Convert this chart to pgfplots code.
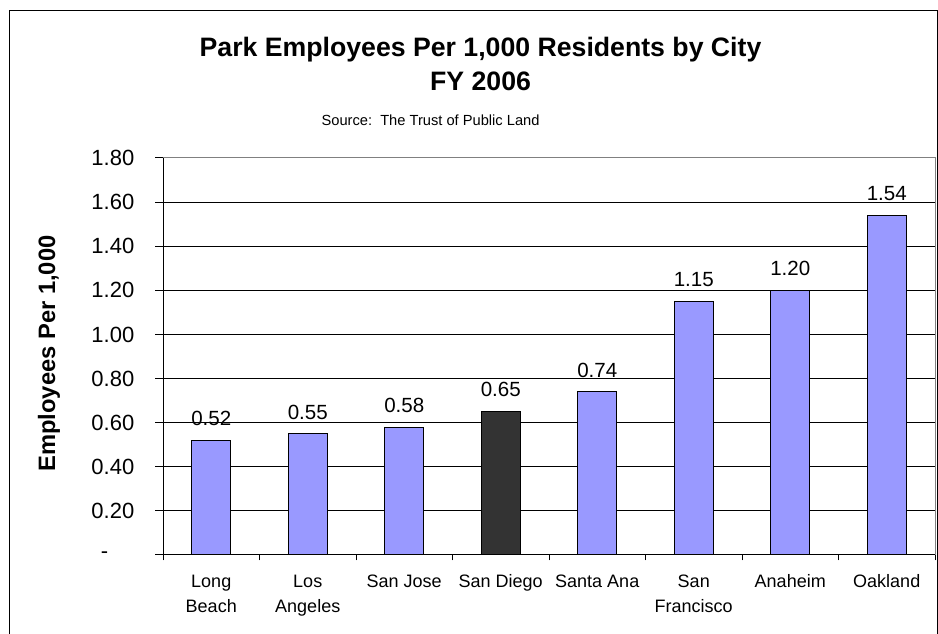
\documentclass[border=0pt]{standalone}
\usepackage{pgfplots}
\pgfplotsset{compat=1.18}
\usepackage{fontspec}
\setmainfont{Liberation Sans}
\definecolor{barblue}{HTML}{9999FF}
\definecolor{bardark}{HTML}{333333}
\definecolor{framegray}{HTML}{808080}
\begin{document}
\begin{tikzpicture}
\useasboundingbox (0,0) rectangle (703.5pt,475.5pt);
\draw[black, line width=0.75pt] (6.75pt,-2pt) -- (6.75pt,467.25pt) -- (702.75pt,467.25pt) -- (702.75pt,-2pt);
\node[anchor=base, font=\fontsize{20}{24}\selectfont\bfseries] at (360.4pt,432.75pt) {Park Employees Per 1,000 Residents by City};
\node[anchor=base, font=\fontsize{20}{24}\selectfont\bfseries] at (360.4pt,407.25pt) {FY 2006};
\node[anchor=base, font=\fontsize{11}{13}\selectfont] at (322.9pt,381pt) {Source:\ \ The Trust of Public Land};
\node[rotate=90, anchor=base, font=\fontsize{17.8}{21}\selectfont\bfseries] at (41.25pt,210.4pt) {Employees Per 1,000};
\begin{axis}[
  at={(122.25pt,59.25pt)}, anchor=south west,
  scale only axis, width=579pt, height=297.75pt,
  xmin=-0.5, xmax=7.5, ymin=0, ymax=1.8,
  axis x line=bottom, axis y line=left,
  axis line style={-, line width=0.75pt, black},
  ytick={0,0.2,0.4,0.6,0.8,1.0,1.2,1.4,1.6,1.8},
  yticklabels={{\makebox[25pt][l]{-}},0.20,0.40,0.60,0.80,1.00,1.20,1.40,1.60,1.80},
  ymajorgrids, major grid style={black, line width=0.75pt},
  xtick={0,...,7},
  xticklabels={\strut Long\\Beach,\strut Los\\Angeles,\strut San Jose,\strut San Diego,\strut Santa Ana,\strut San\\Francisco,\strut Anaheim,\strut Oakland},
  minor xtick={-0.5,0.5,...,7.5},
  major x tick style={draw=none},
  minor x tick style={black, line width=0.75pt},
  minor tick length=4pt,
  major y tick style={black, line width=0.75pt},
  major tick length=6pt,
  tick align=outside,
  yticklabel style={font=\fontsize{16.5}{20}\selectfont, xshift=-12pt},
  xticklabel style={font=\fontsize{13.5}{18.75}\selectfont, align=center, anchor=north, yshift=-1.5pt},
  ybar, bar width=29.25pt, bar shift=0pt,
  nodes near coords,
  nodes near coords style={font=\fontsize{15.4}{18}\selectfont, anchor=base, yshift=11pt,
    /pgf/number format/fixed, /pgf/number format/fixed zerofill, /pgf/number format/precision=2, /pgf/number format/assume math mode=true},
  clip=false,
]
\addplot[fill=barblue, draw=black, line width=0.75pt] coordinates {(0,0.52) (1,0.55) (2,0.58) (4,0.74) (5,1.15) (6,1.20) (7,1.54)};
\addplot[fill=bardark, draw=black, line width=0.75pt] coordinates {(3,0.65)};
\draw[framegray, line width=0.75pt] (rel axis cs:0,1) -- (rel axis cs:1,1) -- (rel axis cs:1,0);
\end{axis}
\end{tikzpicture}
\end{document}
